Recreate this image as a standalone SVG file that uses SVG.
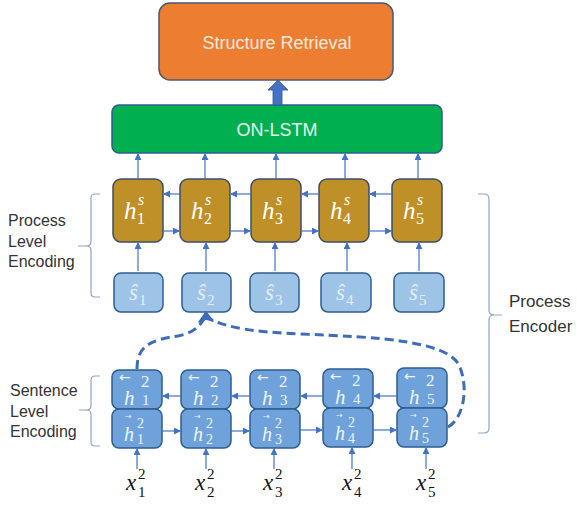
<svg xmlns="http://www.w3.org/2000/svg" width="577" height="507" viewBox="0 0 577 507">
<defs>
<marker id="ah" markerWidth="7" markerHeight="7" refX="6" refY="3.5" orient="auto" markerUnits="userSpaceOnUse">
<path d="M0,0 L7,3.5 L0,7 z" fill="#4472C4"/>
</marker>
</defs>
<style>
.lbl{font-family:"Liberation Sans","Noto Sans",Arial,sans-serif;font-size:16px;fill:#333}
.math{font-family:"Liberation Serif","DejaVu Serif",serif;font-style:italic}
.num{font-family:"Liberation Serif","DejaVu Serif",serif}
.hs{fill:#BF8F28;stroke:#3C4E6A;stroke-width:1.5}
.sn{fill:#9DC3E6;stroke:#2E5D8E;stroke-width:1.5}
.bn{fill:#6FA2DA;stroke:#2E5D8E;stroke-width:1.5}
.conn line{stroke:#4472C4;stroke-width:1.2;marker-end:url(#ah)}
.br{fill:none;stroke:#8EA6C4;stroke-width:1.2}
.dash{fill:none;stroke:#3F6CB8;stroke-width:3;stroke-dasharray:9,5}
.wt{fill:#fff}
.st{fill:#E3EEF9}
.bt{fill:#EEF4FB}
.arr{font-family:"DejaVu Sans",sans-serif}
</style>
<rect width="577" height="507" fill="#fff"/>

<g id="structure-retrieval">
<rect x="159" y="3" width="234" height="77" rx="11" fill="#ED7D31" stroke="#4A5873" stroke-width="1.5"/>
<text x="277" y="49" text-anchor="middle" font-family="Liberation Sans,Noto Sans,Arial,sans-serif" font-size="18" fill="#FCE9DC">Structure Retrieval</text>
</g>

<g id="on-lstm">
<rect x="112" y="105" width="330" height="48" rx="7" fill="#00B050" stroke="#2E5D8E" stroke-width="1.5"/>
<text x="277" y="136" text-anchor="middle" font-family="Liberation Sans,Noto Sans,Arial,sans-serif" font-size="18" fill="#E6F7EC">ON-LSTM</text>
</g>

<g id="process-level-label">
<text class="lbl"><tspan x="8" y="226">Process</tspan><tspan x="8" y="247">Level</tspan><tspan x="8" y="267">Encoding</tspan></text>
<path class="br" d="M100,194 H95 Q91,194 91,198 V242 Q91,246 86,246 H78 M86,246 Q91,246 91,250 V293 Q91,297 95,297 H100"/>
</g>

<g id="sentence-level-label">
<text class="lbl"><tspan x="10" y="396">Sentence</tspan><tspan x="10" y="417">Level</tspan><tspan x="10" y="437">Encoding</tspan></text>
<path class="br" d="M100,376 H95 Q91,376 91,380 V406 Q91,410 86,410 H79 M86,410 Q91,410 91,414 V442 Q91,446 95,446 H100"/>
</g>

<g id="process-encoder-label">
<text class="lbl" style="font-size:17px"><tspan x="509" y="307">Process</tspan><tspan x="509" y="332">Encoder</tspan></text>
<path class="br" d="M478,194 H484 Q489,194 489,199 V310 Q489,315 494,315 H502 M494,315 Q489,315 489,320 V428 Q489,433 484,433 H478"/>
</g>

<!-- h^s nodes -->
<g id="hs1"><rect class="hs" x="113" y="179" width="50" height="63" rx="8"/>
<text class="math wt" x="124" y="219" font-size="25">h</text><text class="math wt" x="138" y="205" font-size="16">s</text><text class="num wt" x="137" y="224" font-size="16">1</text></g>
<g id="hs2"><rect class="hs" x="180" y="179" width="50" height="63" rx="8"/>
<text class="math wt" x="191" y="219" font-size="25">h</text><text class="math wt" x="205" y="205" font-size="16">s</text><text class="num wt" x="204" y="224" font-size="16">2</text></g>
<g id="hs3"><rect class="hs" x="251" y="179" width="50" height="63" rx="8"/>
<text class="math wt" x="262" y="219" font-size="25">h</text><text class="math wt" x="276" y="205" font-size="16">s</text><text class="num wt" x="275" y="224" font-size="16">3</text></g>
<g id="hs4"><rect class="hs" x="319" y="179" width="50" height="63" rx="8"/>
<text class="math wt" x="330" y="219" font-size="25">h</text><text class="math wt" x="344" y="205" font-size="16">s</text><text class="num wt" x="343" y="224" font-size="16">4</text></g>
<g id="hs5"><rect class="hs" x="392" y="179" width="50" height="63" rx="8"/>
<text class="math wt" x="403" y="219" font-size="25">h</text><text class="math wt" x="417" y="205" font-size="16">s</text><text class="num wt" x="416" y="224" font-size="16">5</text></g>

<!-- s-hat nodes -->
<g id="s1"><rect class="sn" x="114" y="273" width="49" height="39" rx="7"/>
<text class="math st" x="129" y="300" font-size="23">ŝ</text><text class="num st" x="139" y="305" font-size="15">1</text></g>
<g id="s2"><rect class="sn" x="182" y="273" width="49" height="39" rx="7"/>
<text class="math st" x="197" y="300" font-size="23">ŝ</text><text class="num st" x="207" y="305" font-size="15">2</text></g>
<g id="s3"><rect class="sn" x="250" y="273" width="49" height="39" rx="7"/>
<text class="math st" x="265" y="300" font-size="23">ŝ</text><text class="num st" x="275" y="305" font-size="15">3</text></g>
<g id="s4"><rect class="sn" x="321" y="273" width="50" height="39" rx="7"/>
<text class="math st" x="336" y="300" font-size="23">ŝ</text><text class="num st" x="346" y="305" font-size="15">4</text></g>
<g id="s5"><rect class="sn" x="394" y="273" width="50" height="39" rx="7"/>
<text class="math st" x="409" y="300" font-size="23">ŝ</text><text class="num st" x="419" y="305" font-size="15">5</text></g>

<!-- sentence-level nodes: backward (top) and forward (bottom) -->
<g id="hb1"><rect class="bn" x="112" y="370" width="50" height="39" rx="7"/>
<text class="arr bt" x="119" y="382" font-size="14">←</text><text class="num bt" x="141" y="387" font-size="17">2</text>
<text class="math bt" x="124" y="405" font-size="21">h</text><text class="num bt" x="142" y="405" font-size="15">1</text></g>
<g id="hf1"><rect class="bn" x="112" y="409" width="50" height="39" rx="7"/>
<text class="arr bt" x="125" y="419" font-size="8">→</text>
<text class="math bt" x="124" y="441" font-size="20">h</text><text class="num bt" x="137" y="428" font-size="14">2</text><text class="num bt" x="137" y="444" font-size="14">1</text></g>

<g id="hb2"><rect class="bn" x="181" y="370" width="50" height="39" rx="7"/>
<text class="arr bt" x="188" y="382" font-size="14">←</text><text class="num bt" x="210" y="387" font-size="17">2</text>
<text class="math bt" x="193" y="405" font-size="21">h</text><text class="num bt" x="211" y="405" font-size="15">2</text></g>
<g id="hf2"><rect class="bn" x="181" y="409" width="50" height="39" rx="7"/>
<text class="arr bt" x="194" y="419" font-size="8">→</text>
<text class="math bt" x="193" y="441" font-size="20">h</text><text class="num bt" x="206" y="428" font-size="14">2</text><text class="num bt" x="206" y="444" font-size="14">2</text></g>

<g id="hb3"><rect class="bn" x="250" y="370" width="50" height="39" rx="7"/>
<text class="arr bt" x="257" y="382" font-size="14">←</text><text class="num bt" x="279" y="387" font-size="17">2</text>
<text class="math bt" x="262" y="405" font-size="21">h</text><text class="num bt" x="280" y="405" font-size="15">3</text></g>
<g id="hf3"><rect class="bn" x="250" y="409" width="50" height="39" rx="7"/>
<text class="arr bt" x="263" y="419" font-size="8">→</text>
<text class="math bt" x="262" y="441" font-size="20">h</text><text class="num bt" x="275" y="428" font-size="14">2</text><text class="num bt" x="275" y="444" font-size="14">3</text></g>

<g id="hb4"><rect class="bn" x="323" y="369" width="50" height="39" rx="7"/>
<text class="arr bt" x="330" y="381" font-size="14">←</text><text class="num bt" x="352" y="386" font-size="17">2</text>
<text class="math bt" x="335" y="404" font-size="21">h</text><text class="num bt" x="353" y="404" font-size="15">4</text></g>
<g id="hf4"><rect class="bn" x="323" y="408" width="50" height="39" rx="7"/>
<text class="arr bt" x="336" y="418" font-size="8">→</text>
<text class="math bt" x="335" y="440" font-size="20">h</text><text class="num bt" x="348" y="427" font-size="14">2</text><text class="num bt" x="348" y="443" font-size="14">4</text></g>

<g id="hb5"><rect class="bn" x="397" y="368" width="50" height="40" rx="7"/>
<text class="arr bt" x="404" y="381" font-size="14">←</text><text class="num bt" x="426" y="386" font-size="17">2</text>
<text class="math bt" x="409" y="404" font-size="21">h</text><text class="num bt" x="427" y="404" font-size="15">5</text></g>
<g id="hf5"><rect class="bn" x="397" y="408" width="50" height="39" rx="7"/>
<text class="arr bt" x="410" y="418" font-size="8">→</text>
<text class="math bt" x="409" y="440" font-size="20">h</text><text class="num bt" x="422" y="427" font-size="14">2</text><text class="num bt" x="422" y="443" font-size="14">5</text></g>

<!-- input labels -->
<g id="x1"><text class="math" x="126" y="490" font-size="23" fill="#111">x</text><text class="num" x="138" y="479" font-size="15" fill="#111">2</text><text class="num" x="138" y="497" font-size="15" fill="#111">1</text></g>
<g id="x2"><text class="math" x="195" y="490" font-size="23" fill="#111">x</text><text class="num" x="207" y="479" font-size="15" fill="#111">2</text><text class="num" x="207" y="497" font-size="15" fill="#111">2</text></g>
<g id="x3"><text class="math" x="263" y="490" font-size="23" fill="#111">x</text><text class="num" x="275" y="479" font-size="15" fill="#111">2</text><text class="num" x="275" y="497" font-size="15" fill="#111">3</text></g>
<g id="x4"><text class="math" x="342" y="490" font-size="23" fill="#111">x</text><text class="num" x="354" y="479" font-size="15" fill="#111">2</text><text class="num" x="354" y="497" font-size="15" fill="#111">4</text></g>
<g id="x5"><text class="math" x="416" y="490" font-size="23" fill="#111">x</text><text class="num" x="428" y="479" font-size="15" fill="#111">2</text><text class="num" x="428" y="497" font-size="15" fill="#111">5</text></g>

<g id="connectors">
<g class="conn">
<line x1="138" y1="179" x2="138" y2="154"/>
<line x1="205" y1="179" x2="205" y2="154"/>
<line x1="276" y1="179" x2="276" y2="154"/>
<line x1="345" y1="179" x2="345" y2="154"/>
<line x1="418" y1="179" x2="418" y2="154"/>
<line x1="138" y1="271" x2="138" y2="243"/>
<line x1="206" y1="271" x2="206" y2="243"/>
<line x1="275" y1="271" x2="275" y2="243"/>
<line x1="347" y1="271" x2="347" y2="243"/>
<line x1="419" y1="271" x2="419" y2="243"/>
<line x1="180" y1="194" x2="164" y2="194"/>
<line x1="251" y1="194" x2="231" y2="194"/>
<line x1="319" y1="194" x2="302" y2="194"/>
<line x1="392" y1="194" x2="370" y2="194"/>
<line x1="163" y1="231" x2="179" y2="231"/>
<line x1="230" y1="231" x2="250" y2="231"/>
<line x1="301" y1="231" x2="318" y2="231"/>
<line x1="369" y1="231" x2="391" y2="231"/>
<line x1="181" y1="396" x2="163" y2="396"/>
<line x1="250" y1="396" x2="232" y2="396"/>
<line x1="323" y1="396" x2="301" y2="396"/>
<line x1="397" y1="396" x2="374" y2="396"/>
<line x1="162" y1="431" x2="180" y2="431"/>
<line x1="231" y1="431" x2="249" y2="431"/>
<line x1="300" y1="430" x2="322" y2="430"/>
<line x1="373" y1="430" x2="396" y2="430"/>
<line x1="137" y1="469" x2="137" y2="449"/>
<line x1="206" y1="469" x2="206" y2="449"/>
<line x1="274" y1="469" x2="274" y2="449"/>
<line x1="352" y1="469" x2="352" y2="448"/>
<line x1="426" y1="469" x2="426" y2="448"/>
</g>
<path d="M273,105 V90 H268 L278,80 L288,90 H282 V105 z" fill="#4472C4" stroke="#2F5597" stroke-width="0.8"/>
<path class="dash" d="M137,369 C137,346 150,340 178,336 C193,333 199,327 204,319"/>
<path class="dash" d="M448,427 C462,420 470,390 459,365 C446,341 380,337 300,334 C255,332 228,328 210,319"/>
<path d="M206,312 L213,321 L206,319 L199,322 z" fill="#3F6CB8" stroke="#3F6CB8" stroke-width="1.5" stroke-linejoin="round"/>
</g>
</svg>
